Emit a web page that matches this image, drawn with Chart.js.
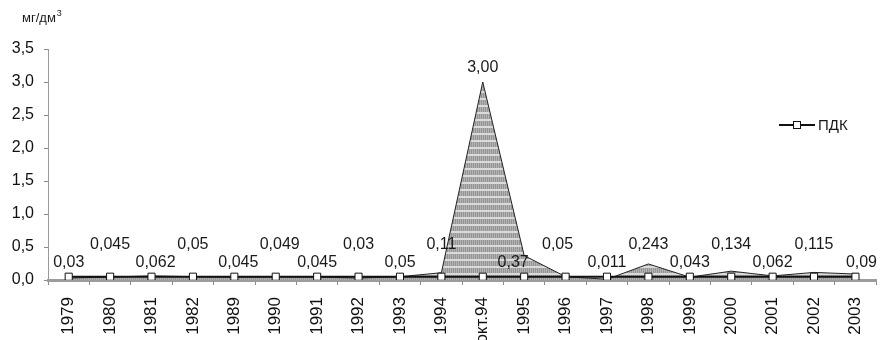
<!DOCTYPE html>
<html>
<head>
<meta charset="utf-8">
<style>
  html, body { margin: 0; padding: 0; background: #fff; }
  #wrap { width: 888px; height: 340px; position: relative; }
</style>
<script src="https://cdn.jsdelivr.net/npm/chart.js@4/dist/chart.umd.min.js"></script>
</head>
<body>
<div id="wrap"><canvas id="chart" width="888" height="340"></canvas></div>
<script>
// Years of observation (plus the October 1994 spill measurement)
const categories = ['1979', '1980', '1981', '1982', '1989', '1990', '1991', '1992', '1993', '1994',
  'окт.94', '1995', '1996', '1997', '1998', '1999', '2000', '2001', '2002', '2003'];

// Measured concentration, mg/dm³
const concentration = [0.03, 0.045, 0.062, 0.05, 0.045, 0.049, 0.045, 0.03, 0.05, 0.11,
  3.00, 0.37, 0.05, 0.011, 0.243, 0.043, 0.134, 0.062, 0.115, 0.09];

// Maximum permissible concentration (ПДК)
const pdkLevel = [0.05, 0.05, 0.05, 0.05, 0.05, 0.05, 0.05, 0.05, 0.05, 0.05,
  0.05, 0.05, 0.05, 0.05, 0.05, 0.05, 0.05, 0.05, 0.05, 0.05];

// Y axis ticks
const yTicks = [0, 0.5, 1.0, 1.5, 2.0, 2.5, 3.0, 3.5];

const unitText = 'мг/дм';
const unitSup = '3';
const FONT = '"Liberation Sans", Arial, sans-serif';

const fmt = v => v.toFixed(1).replace('.', ',');
const fmtLabel = v => (v === 3 ? '3,00' : String(v).replace('.', ','));

// Grey fill with light horizontal stripes
function makePattern() {
  const c = document.createElement('canvas');
  c.width = 4; c.height = 7;
  const g = c.getContext('2d');
  g.fillStyle = '#959595';
  g.fillRect(0, 0, 4, 7);
  g.fillStyle = '#b2b2b2';
  g.fillRect(0, 2, 1, 5);
  g.fillRect(2, 2, 1, 5);
  g.fillStyle = '#dadada';
  g.fillRect(0, 0, 4, 2);
  return g.createPattern(c, 'repeat');
}

// Value labels: alternating rows above the baseline, peak value above its point
const valueLabels = {
  id: 'valueLabels',
  afterDatasetsDraw(chart) {
    const ctx = chart.ctx;
    const xs = chart.scales.x, ys = chart.scales.y;
    const base = ys.getPixelForValue(0);
    const peak = concentration.indexOf(Math.max(...concentration));
    ctx.save();
    ctx.font = '16px ' + FONT;
    ctx.fillStyle = '#1a1a1a';
    ctx.textAlign = 'center';
    ctx.textBaseline = 'middle';
    let k = 0;
    concentration.forEach((v, i) => {
      const x = xs.getPixelForValue(i);
      let y;
      if (i === peak) {
        y = ys.getPixelForValue(v) - 14;
      } else {
        y = base - (k % 2 === 0 ? 17 : 35);
        k++;
      }
      let dx = 0;
      if (i === 2 || i === 4 || i === 5) dx = 4;
      if (i === 11) dx = -11;
      if (i === 12) dx = -8;
      if (i === 19) dx = 6;
      ctx.fillText(fmtLabel(v), x + dx, y);
    });
    ctx.restore();
  }
};

// Unit caption and legend entry
const extras = {
  id: 'extras',
  afterDraw(chart) {
    const ctx = chart.ctx;
    ctx.save();
    ctx.fillStyle = '#1a1a1a';
    ctx.textBaseline = 'alphabetic';
    ctx.textAlign = 'left';
    ctx.font = '13px ' + FONT;
    ctx.fillText(unitText, 22, 22);
    const w = ctx.measureText(unitText).width;
    ctx.font = '9px ' + FONT;
    ctx.fillText(unitSup, 22 + w + 1, 16);

    // legend
    const ds = chart.data.datasets[0];
    const ly = 125;
    ctx.strokeStyle = ds.borderColor;
    ctx.lineWidth = ds.borderWidth;
    ctx.beginPath();
    ctx.moveTo(779, ly); ctx.lineTo(815, ly);
    ctx.stroke();
    ctx.fillStyle = ds.pointBackgroundColor;
    ctx.strokeStyle = ds.pointBorderColor;
    ctx.lineWidth = 1;
    ctx.fillRect(793, ly - 4, 8, 8);
    ctx.strokeRect(793.5, ly - 3.5, 7, 7);
    ctx.fillStyle = '#1a1a1a';
    ctx.font = '15px ' + FONT;
    ctx.textBaseline = 'middle';
    ctx.fillText(ds.label, 818, ly + 1);
    ctx.restore();
  }
};

const ctx = document.getElementById('chart').getContext('2d');
new Chart(ctx, {
  type: 'line',
  data: {
    labels: categories,
    datasets: [
      {
        label: 'ПДК',
        data: pdkLevel,
        order: 0,
        borderColor: '#111',
        borderWidth: 2,
        pointStyle: 'rect',
        pointRadius: 5,
        pointBackgroundColor: '#fff',
        pointBorderColor: '#111',
        pointBorderWidth: 1,
        fill: false,
        tension: 0
      },
      {
        label: 'концентрация',
        data: concentration,
        order: 1,
        borderColor: '#222',
        borderWidth: 1,
        backgroundColor: makePattern(),
        pointRadius: 0,
        fill: 'origin',
        tension: 0
      }
    ]
  },
  options: {
    responsive: false,
    animation: false,
    layout: { padding: { top: 49, left: 0, right: 0, bottom: 0 } },
    plugins: {
      legend: { display: false },
      tooltip: { enabled: false },
      title: { display: false }
    },
    scales: {
      x: {
        type: 'category',
        offset: true,
        grid: {
          display: true, drawOnChartArea: false, drawTicks: true,
          tickLength: 5, color: '#8a8a8a', offset: true
        },
        border: { display: true, color: '#9c9c9c', width: 3 },
        ticks: {
          autoSkip: false, minRotation: 90, maxRotation: 90,
          padding: 12, color: '#111',
          font: { family: FONT, size: 17 }
        },
        afterFit(scale) { scale.height = 60; }
      },
      y: {
        min: 0, max: 3.5,
        afterBuildTicks(scale) { scale.ticks = yTicks.map(v => ({ value: v })); },
        grid: {
          display: true, drawOnChartArea: false, drawTicks: true,
          tickLength: 4, color: '#8a8a8a'
        },
        border: { display: true, color: '#9a9a9a', width: 1 },
        ticks: {
          padding: 10, color: '#111',
          font: { family: FONT, size: 16 },
          callback: v => fmt(v)
        },
        afterFit(scale) { scale.width = 48; }
      }
    }
  },
  plugins: [valueLabels, extras]
});
</script>
</body>
</html>
